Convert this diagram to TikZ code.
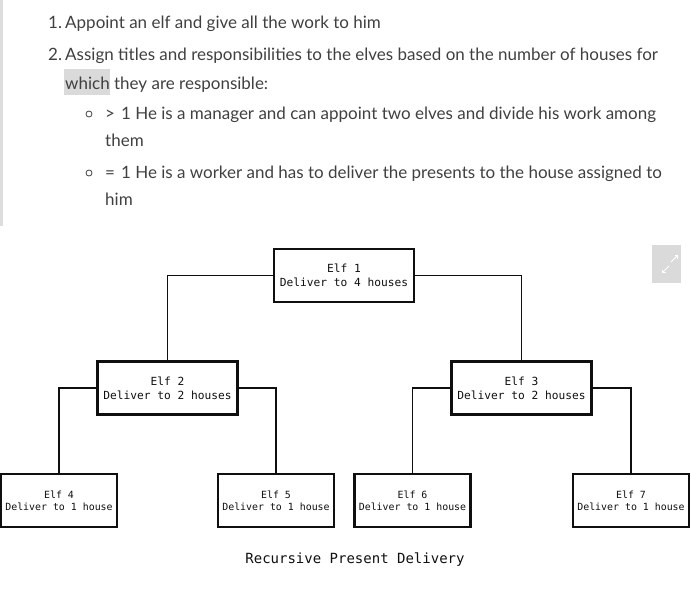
\documentclass[tikz,border=0pt]{standalone}
\usepackage{fontspec}
\usepackage{tikz}
\usepackage{xcolor}
\usetikzlibrary{positioning, arrows.meta}
\setmainfont{Lato}
\newfontfamily\elfmono{DejaVu Sans Mono}
\definecolor{elfline}{RGB}{15, 15, 15}
\definecolor{listtext}{RGB}{64, 64, 64}
\definecolor{barpale}{RGB}{221, 221, 221}
\definecolor{markgray}{RGB}{218, 218, 218}
\tikzset{
    elfbox/.style={draw=elfline, line width=2.2pt, align=center, inner sep=0pt, text=elfline, font=\elfmono\fontsize{11.2}{14}\selectfont, minimum width=140pt, minimum height=53pt},
    leafbox/.style={elfbox, font=\elfmono\fontsize{9.9}{12}\selectfont, minimum width=116pt, minimum height=53pt},
    link/.style={draw=elfline, line width=1.6pt},
    listline/.style={anchor=base west, inner sep=0pt, text=listtext, font=\fontsize{17}{20}\selectfont},
    bulletdot/.style={circle, draw=listtext, line width=0.8pt, minimum size=6pt, inner sep=0pt}
}

\begin{document}
\begin{tikzpicture}[x=1pt, y=-1pt]
                    \useasboundingbox (0,0) rectangle (691,594);
                    % page decorations
                    \fill[barpale] (0,0) rectangle (3,226);
                    \fill[markgray] (64,69) rectangle (110,95);
                    \fill[markgray] (652,245) rectangle (681,283);
                    \coordinate (exp1) at (669,266);
                    \coordinate (exp2) at (662,273);
                    \coordinate (exp3) at (671,262);
                    \coordinate (exp4) at (678,255);
                    \draw[white, line width=1pt, -{Straight Barb[angle=90:3pt]}] (exp1) -- (exp2);
                    \draw[white, line width=1pt, -{Straight Barb[angle=90:3pt]}] (exp3) -- (exp4);

                    % the list
                    \node[listline] (num1) at (48,29) {1.};
                    \node[listline] (item1) at (65,29) {Appoint an elf and give all the work to him};
                    \node[listline] (num2) at (48,61) {2.};
                    \node[listline] (item2a) at (65,61) {Assign titles and responsibilities to the elves based on the number of houses for};
                    \node[listline] (item2b) at (65,89) {which they are responsible:};
                    \node[bulletdot] (bul1) at (89,114) {};
                    \node[listline] (sub1a) at (105,119) {>\hspace{6pt}1 He is a manager and can appoint two elves and divide his work among};
                    \node[listline] (sub1b) at (105,146) {them};
                    \node[bulletdot] (bul2) at (89,173) {};
                    \node[listline] (sub2a) at (105,178) {=\hspace{6pt}1 He is a worker and has to deliver the presents to the house assigned to};
                    \node[listline] (sub2b) at (105,205) {him};

                    % the tree
                    \node[elfbox] (elf1) at (344,275.5) {Elf 1\\Deliver to 4 houses};
                    \node[elfbox] (elf2) at (167.5,388) {Elf 2\\Deliver to 2 houses};
                    \node[elfbox] (elf3) at (521.5,388) {Elf 3\\Deliver to 2 houses};
                    \node[leafbox] (elf4) at (59,500.5) {Elf 4\\Deliver to 1 house};
                    \node[leafbox] (elf5) at (276,500.5) {Elf 5\\Deliver to 1 house};
                    \node[leafbox] (elf6) at (412.5,500.5) {Elf 6\\Deliver to 1 house};
                    \node[leafbox] (elf7) at (631,500.5) {Elf 7\\Deliver to 1 house};

                    \draw[link] (elf1.west) -| (elf2.north);
                    \draw[link] (elf1.east) -| (elf3.north);
                    \draw[link] (elf2.west) -| (elf4.north);
                    \draw[link] (elf2.east) -| (elf5.north);
                    \draw[link] (elf3.west) -| (elf6.north);
                    \draw[link] (elf3.east) -| (elf7.north);

                    \node[text=elfline, font=\elfmono\fontsize{14}{16}\selectfont] (caption) at (355,560) {Recursive Present Delivery};
                \end{tikzpicture}
\end{document}
